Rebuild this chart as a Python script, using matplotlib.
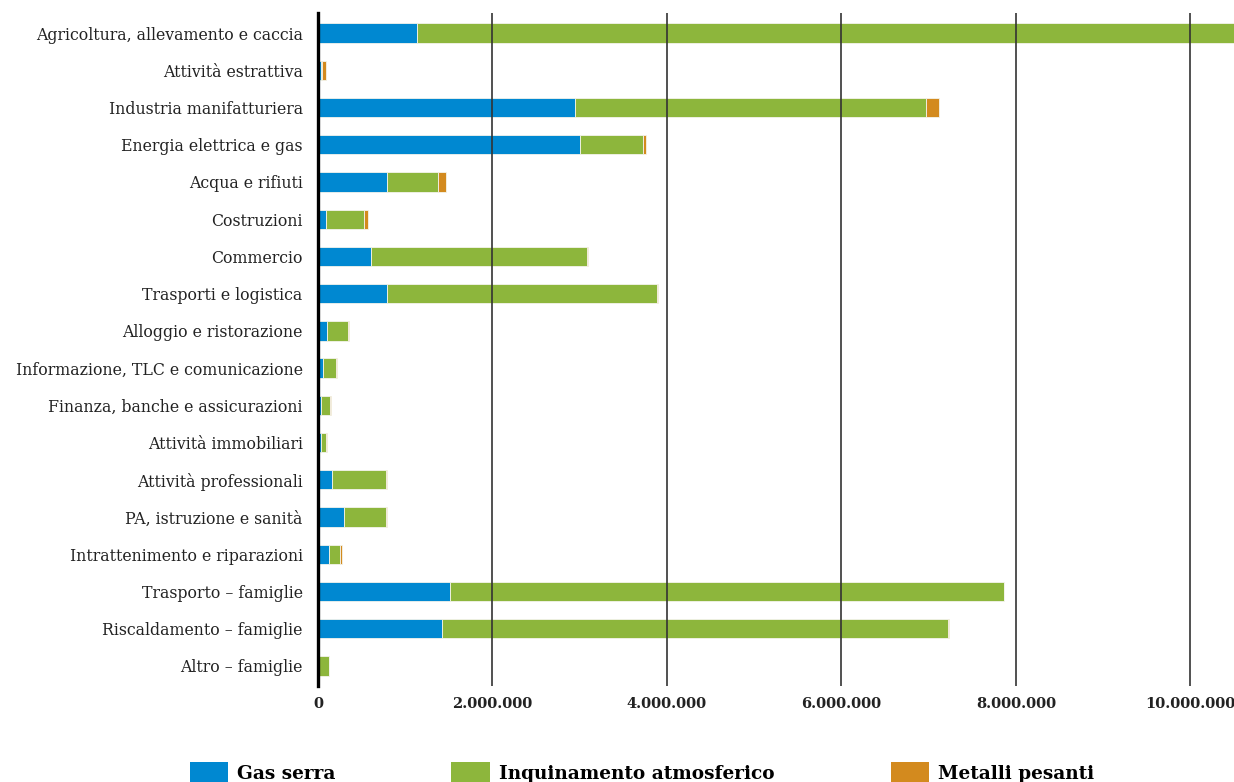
import matplotlib.pyplot as plt
import matplotlib.ticker as mticker
import numpy as np

# settori (dall'alto in basso)
settori = [
    "Agricoltura, allevamento e caccia",
    "Attività estrattiva",
    "Industria manifatturiera",
    "Energia elettrica e gas",
    "Acqua e rifiuti",
    "Costruzioni",
    "Commercio",
    "Trasporti e logistica",
    "Alloggio e ristorazione",
    "Informazione, TLC e comunicazione",
    "Finanza, banche e assicurazioni",
    "Attività immobiliari",
    "Attività professionali",
    "PA, istruzione e sanità",
    "Intrattenimento e riparazioni",
    "Trasporto – famiglie",
    "Riscaldamento – famiglie",
    "Altro – famiglie",
]

gas_serra = [1135000, 35000, 2950000, 3000000, 790000, 92000, 608000, 790000,
             107000, 54000, 34000, 30000, 165000, 295000, 130000, 1510000,
             1418000, 5000]
inquinamento = [9870000, 12000, 4020000, 720000, 585000, 435000, 2470000, 3100000,
                233000, 156000, 104000, 65000, 620000, 490000, 122000, 6350000,
                5800000, 121000]
metalli = [40000, 45000, 150000, 35000, 95000, 43000, 12000, 12000,
           12000, 12000, 10000, 10000, 5000, 3000, 23000, 5000,
           20000, 2000]

serie = ["Gas serra", "Inquinamento atmosferico", "Metalli pesanti"]
colori = ["#0088d1", "#8db63c", "#d38a1e"]

fig = plt.figure(figsize=(12.34, 7.82), dpi=100)
ax = fig.add_axes([318 / 1234, 1 - 686 / 782, 1 - 318 / 1234, (686 - 13) / 782])

y = np.arange(len(settori))
left = np.zeros(len(settori))
for vals, nome, col in zip([gas_serra, inquinamento, metalli], serie, colori):
    ax.barh(y, vals, left=left, height=0.52, color=col, label=nome,
            edgecolor="#f4f4ec", linewidth=0.6, zorder=2)
    left += np.array(vals)

ax.set_ylim(len(settori) - 0.46, -0.54)
ax.set_xlim(0, 10500000)
ax.set_xticks(np.arange(0, 10500001, 2000000))
ax.xaxis.set_major_formatter(mticker.FuncFormatter(lambda v, p: f"{int(v):,}".replace(",", ".")))
ax.set_yticks(y)
ax.set_yticklabels(settori, fontsize=11.3, family="DejaVu Serif")
for lab in ax.get_xticklabels():
    lab.set_family("DejaVu Serif")
    lab.set_fontweight("bold")
    lab.set_fontsize(10.5)

ax.tick_params(axis="both", length=0, colors="#222222")
ax.tick_params(axis="y", pad=11)
ax.tick_params(axis="x", pad=8)

for g in np.arange(2000000, 10500001, 2000000):
    ax.axvline(g, color="#333333", linewidth=1.2, zorder=3)

for s in ["top", "right", "bottom"]:
    ax.spines[s].set_visible(False)
ax.spines["left"].set_linewidth(2.4)
ax.spines["left"].set_color("black")
ax.spines["left"].set_zorder(4)

leg = fig.legend(loc="center", bbox_to_anchor=(0.52, 0.012), ncol=3, frameon=False,
                 handlelength=2.1, handleheight=1.3, handletextpad=0.45, columnspacing=6.3,
                 prop={"family": "DejaVu Serif", "weight": "bold", "size": 13.3})
for h in leg.legend_handles:
    h.set_edgecolor("none")

fig.savefig("out.png", dpi=100)
